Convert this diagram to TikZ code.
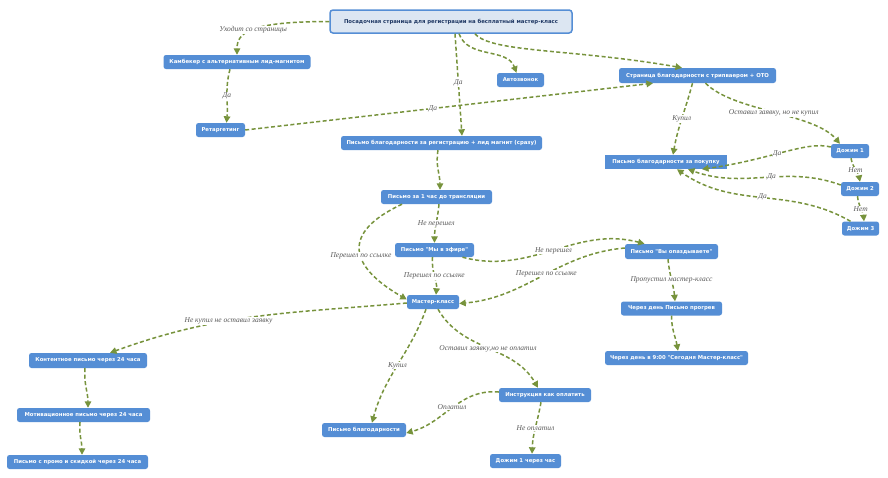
\documentclass[tikz,border=0pt]{standalone}
\usepackage{fontspec}
\newfontfamily\boxfont{DejaVu Sans}
\newfontfamily\lblfont{Liberation Serif}
\usetikzlibrary{arrows.meta}
\definecolor{boxblue}{RGB}{85,142,213}
\definecolor{rootfill}{RGB}{220,230,242}
\definecolor{rootink}{RGB}{31,56,100}
\definecolor{edgegreen}{RGB}{119,147,60}
\definecolor{lblgray}{RGB}{89,89,89}

\begin{document}
\begin{tikzpicture}[x=1pt,y=-1pt,
  stepnode/.style={fill=boxblue,text=white,rounded corners=2.5pt,minimum height=14pt,inner sep=1pt,font=\boxfont\bfseries\fontsize{5.35}{6}\selectfont},
  flatnode/.style={stepnode,sharp corners},
  rootnode/.style={stepnode,fill=rootfill,draw=boxblue,line width=1.5pt,text=rootink,rounded corners=3pt,minimum height=23pt},
  flow/.style={draw=edgegreen,line width=1.5pt,dash pattern=on 4pt off 2.5pt,-{Triangle[length=6.5pt,width=6.5pt]}},
  lbl/.style={fill=white,inner sep=0.6pt,text=lblgray,font=\lblfont\itshape\fontsize{7.5}{8}\selectfont}]
%set diagram size
\fill[white] (0,0) rectangle (888,477);
\useasboundingbox (0,0) rectangle (888,477);

% Text Node
\node[rootnode,minimum width=242pt] (root) at (451,21.5) {Посадочная страница для регистрации на бесплатный мастер-класс};
% Text Node
\node[stepnode,minimum width=147pt] (kamb) at (237,62) {Камбекер с альтернативным лид-магнитом};
\node[stepnode,minimum width=49pt] (retarg) at (220.5,130) {Ретаргетинг};
\node[stepnode,minimum width=47pt] (avto) at (520.5,80) {Автозвонок};
\node[stepnode,minimum width=201pt] (pismoReg) at (441.5,143) {Письмо благодарности за регистрацию + лид магнит (сразу)};
\node[stepnode,minimum width=157pt,minimum height=15pt] (tyPage) at (697.5,75.5) {Страница благодарности с трипваером + ОТО};
\node[flatnode,minimum width=122pt] (tyBuy) at (666,162) {Письмо благодарности за покупку};
\node[stepnode,minimum width=38pt] (dozh1) at (850,151) {Дожим 1};
\node[stepnode,minimum width=38pt] (dozh2) at (860,189) {Дожим 2};
\node[stepnode,minimum width=37pt] (dozh3) at (860.5,228.5) {Дожим 3};
% Text Node
\node[stepnode,minimum width=111pt] (hour) at (436.5,197) {Письмо за 1 час до трансляции};
\node[stepnode,minimum width=79pt] (efir) at (434.5,250) {Письмо "Мы в эфире"};
\node[stepnode,minimum width=93pt,minimum height=15pt] (late) at (671.5,251.5) {Письмо "Вы опаздываете"};
\node[stepnode,minimum width=52pt] (mk) at (433,302) {Мастер-класс};
\node[stepnode,minimum width=101pt] (progrev) at (671.5,308.5) {Через день Письмо прогрев};
\node[stepnode,minimum width=143pt] (today) at (676.5,358) {Через день в 9:00 "Сегодня Мастер-класс"};
% Text Node
\node[stepnode,minimum width=118pt,minimum height=15pt] (kontent) at (88,360.5) {Контентное письмо через 24 часа};
\node[stepnode,minimum width=133pt] (motiv) at (83.5,415) {Мотивационное письмо через 24 часа};
\node[stepnode,minimum width=141pt] (promo) at (77.5,462) {Письмо с промо и скидкой через 24 часа};
\node[stepnode,minimum width=92pt] (instr) at (545,395) {Инструкция как оплатить};
\node[stepnode,minimum width=84pt] (thanks) at (364,430) {Письмо благодарности};
\node[stepnode,minimum width=71pt] (dozh1h) at (525.5,461) {Дожим 1 через час};

%Curves from the landing page
\draw[flow] (root.west) to[out=180,in=90,out distance=80pt,in distance=22pt] node[lbl,pos=0.5] (l1) {Уходит со страницы} (kamb.north);
\draw[flow] ([xshift=-7]kamb.south) to[out=-105,in=85] node[lbl,pos=0.5] (l2) {Да} ([xshift=6]retarg.north);
\draw[flow] (retarg.east) -- node[lbl,pos=0.46] (l3) {Да} ([xshift=-44.5]tyPage.south);
\draw[flow] ([xshift=4]root.south) -- node[lbl,pos=0.48] (l4) {Да} ([xshift=20.5]pismoReg.north);
\draw[flow] ([xshift=8]root.south) to[out=-70,in=110] ([xshift=-4]avto.north);
\draw[flow] ([xshift=24]root.south) to[out=-50,in=170,out distance=25pt,in distance=110pt] ([xshift=-15.5]tyPage.north);
%Curves from the thank-you page
\draw[flow] ([xshift=-5]tyPage.south) to[out=-105,in=80] node[lbl,pos=0.5] (l5) {Купил} ([xshift=7]tyBuy.north);
\draw[flow] ([xshift=8]tyPage.south) to[out=-45,in=130,looseness=0.7] node[lbl,pos=0.5] (l6) {Оставил заявку, но не купил} ([xshift=-10]dozh1.north);
\draw[flow] ([yshift=4]dozh1.west) to[out=165,in=8,out distance=25pt,in distance=70pt] node[lbl,pos=0.55] (l7) {Да} ([xshift=36]tyBuy.south);
\draw[flow] ([xshift=1]dozh1.south) to[out=-80,in=100] node[lbl,pos=0.5] (l8) {Нет} (dozh2.north);
\draw[flow] ([yshift=4]dozh2.west) to[out=160,in=-20] node[lbl,pos=0.45] (l9) {Да} ([xshift=22]tyBuy.south);
\draw[flow] ([xshift=-2.5]dozh2.south) to[out=-85,in=95] node[lbl,pos=0.5] (l10) {Нет} ([xshift=3.5]dozh3.north);
\draw[flow] ([xshift=-10]dozh3.north) to[out=150,in=-35] node[lbl,pos=0.5] (l11) {Да} ([xshift=11]tyBuy.south);
%Curves of the letters
\draw[flow] ([xshift=-3.5]pismoReg.south) to[out=-100,in=90] ([xshift=3.5]hour.north);
\draw[flow] ([xshift=2.5]hour.south) to[out=-95,in=90] node[lbl,pos=0.5] (l12) {Не перешел} (efir.north);
\draw[flow] ([xshift=-34.5]hour.south) to[out=-155,in=150,looseness=1.8] node[lbl,pos=0.56] (l13) {Перешел по ссылке} ([yshift=2.5]mk.west);
\draw[flow] ([xshift=-2]efir.south) to[out=-95,in=85] node[lbl,pos=0.5] (l14) {Перешел по ссылке} ([xshift=3]mk.north);
\draw[flow] ([xshift=28]efir.south) to[out=-15,in=165] node[lbl,pos=0.5] (l15) {Не перешел} ([xshift=-27]late.north);
\draw[flow] ([yshift=3.5]late.west) to[out=185,in=5] node[lbl,pos=0.47] (l16) {Перешел по ссылке} ([yshift=-1.5]mk.east);
\draw[flow] ([xshift=-3.5]late.south) to[out=-85,in=95] node[lbl,pos=0.5] (l17) {Пропустил мастер-класс} ([xshift=3.5]progrev.north);
\draw[flow] (progrev.south) to[out=-90,in=100] ([xshift=1.5]today.north);
%Curves from the master class
\draw[flow] ([yshift=-1]mk.west) to[out=185,in=20] node[lbl,pos=0.6] (l18) {Не купил не оставил заявку} ([xshift=22]kontent.north);
\draw[flow] ([xshift=-3]kontent.south) to[out=-95,in=90] ([xshift=4.5]motiv.north);
\draw[flow] ([xshift=-3.5]motiv.south) to[out=-95,in=90] ([xshift=4.5]promo.north);
\draw[flow] ([xshift=-7]mk.south) to[out=-110,in=75] node[lbl,pos=0.5] (l19) {Купил} ([xshift=8]thanks.north);
\draw[flow] ([xshift=5]mk.south) to[out=-60,in=120] node[lbl,pos=0.5] (l20) {Оставил заявку,но не оплатил} ([xshift=-7]instr.north);
\draw[flow] ([yshift=3]instr.west) to[out=175,in=15] node[lbl,pos=0.5] (l21) {Оплатил} ([yshift=-3]thanks.east);
\draw[flow] ([xshift=-4]instr.south) to[out=-100,in=88] node[lbl,pos=0.5] (l22) {Не оплатил} ([xshift=6.5]dozh1h.north);

\end{tikzpicture}
\end{document}
